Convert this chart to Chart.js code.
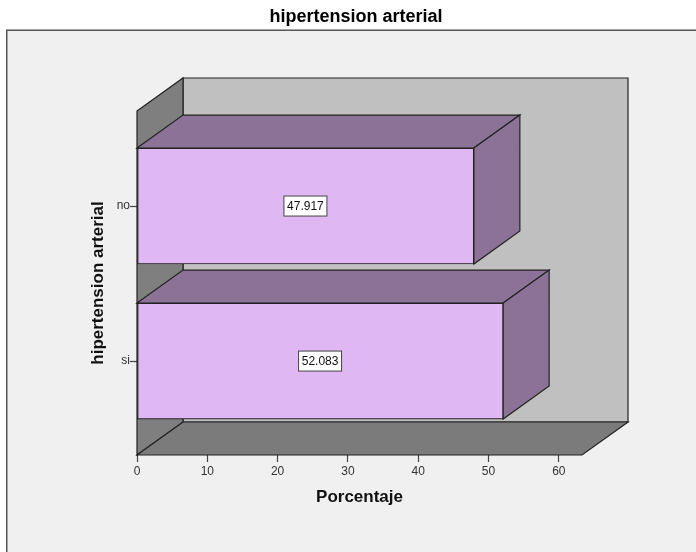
<!DOCTYPE html>
<html>
<head>
<meta charset="utf-8">
<title>hipertension arterial</title>
<script src="https://cdn.jsdelivr.net/npm/chart.js@4"></script>
<style>
html, body { margin: 0; padding: 0; background: #fff; }
canvas { display: block; }
</style>
</head>
<body>
<canvas id="graph" width="696" height="552"></canvas>
<script>
var titleText = 'hipertension arterial';
var categories = ['no', 'si'];
var percentages = [47.917, 52.083];
var xTicks = [0, 10, 20, 30, 40, 50, 60];
var xTitle = 'Porcentaje';
var yTitle = 'hipertension arterial';

// depth of the fake 3d box, in pixels
var DX = 46, DY = -33;
var LINE = '#222';

function poly(ctx, pts, fill) {
	ctx.beginPath();
	ctx.moveTo(pts[0][0], pts[0][1]);
	for (var i = 1; i < pts.length; i++) ctx.lineTo(pts[i][0], pts[i][1]);
	ctx.closePath();
	ctx.fillStyle = fill;
	ctx.fill();
	ctx.lineWidth = 1.2;
	ctx.strokeStyle = LINE;
	ctx.lineJoin = 'miter';
	ctx.stroke();
}

// panel behind everything + the box walls
var panelPlugin = {
	id: 'panel',
	beforeDraw: function(chart) {
		var ctx = chart.ctx;
		ctx.save();
		ctx.fillStyle = '#f0f0f0';
		ctx.fillRect(7, 30, 689, 522);
		ctx.fillStyle = '#555';
		ctx.fillRect(6, 30, 1.5, 522);
		ctx.fillRect(6, 29.5, 690, 1.5);
		ctx.restore();
	},
	beforeDatasetsDraw: function(chart) {
		var ctx = chart.ctx, a = chart.chartArea;
		var l = a.left, r = a.right, t = a.top, b = a.bottom;
		ctx.save();
		poly(ctx, [[l + DX, t + DY], [r + DX, t + DY], [r + DX, b + DY], [l + DX, b + DY]], '#c0c0c0');
		poly(ctx, [[l, t], [l + DX, t + DY], [l + DX, b + DY], [l, b]], '#7f7f7f');
		poly(ctx, [[l, b], [l + DX, b + DY], [r + DX, b + DY], [r, b]], '#7b7b7b');

		// top and side face of each bar
		chart.getDatasetMeta(0).data.forEach(function(bar) {
			var x0 = l, x1 = bar.x, y0 = bar.y - bar.height / 2, y1 = bar.y + bar.height / 2;
			poly(ctx, [[x0, y0], [x0 + DX, y0 + DY], [x1 + DX, y0 + DY], [x1, y0]], '#8b7296');
			poly(ctx, [[x1, y0], [x1 + DX, y0 + DY], [x1 + DX, y1 + DY], [x1, y1]], '#8b7296');
		});
		ctx.restore();
	},
	afterDatasetsDraw: function(chart) {
		var ctx = chart.ctx, l = chart.chartArea.left;
		ctx.save();
		ctx.font = '12px "Liberation Sans"';
		ctx.textAlign = 'center';
		ctx.textBaseline = 'middle';
		chart.getDatasetMeta(0).data.forEach(function(bar, i) {
			var cx = (l + bar.x) / 2, cy = bar.y;
			var txt = percentages[i].toFixed(3);
			ctx.fillStyle = '#fff';
			ctx.fillRect(cx - 21.5, cy - 10, 43, 20);
			ctx.strokeStyle = '#444';
			ctx.lineWidth = 1;
			ctx.strokeRect(cx - 21.5, cy - 10, 43, 20);
			ctx.fillStyle = '#111';
			ctx.fillText(txt, cx, cy + 0.5);
		});
		ctx.restore();
	}
};

var barData = percentages.map(function(v, i) { return { x: v, y: i }; });

new Chart(document.getElementById('graph'), {
	type: 'bar',
	plugins: [panelPlugin],
	data: {
		datasets: [{
			data: barData,
			yAxisID: 'y',
			barThickness: 116,
			backgroundColor: '#dfb8f3',
			borderColor: LINE,
			borderWidth: 1.2,
			borderSkipped: false
		}]
	},
	options: {
		indexAxis: 'y',
		responsive: false,
		animation: false,
		layout: { padding: { left: 16 } },
		plugins: {
			legend: { display: false },
			tooltip: { enabled: false },
			title: {
				display: true,
				text: titleText,
				color: '#000',
				font: { family: '"Liberation Sans"', size: 18, weight: 'bold' },
				padding: { top: 6, bottom: 83.4 }
			}
		},
		scales: {
			x: {
				type: 'linear',
				min: 0,
				max: 63.3,
				afterBuildTicks: function(scale) {
					scale.ticks = xTicks.map(function(v) { return { value: v }; });
				},
				afterFit: function(scale) { scale.height = 97; },
				border: { display: false },
				grid: { drawOnChartArea: false, tickLength: 7, color: '#444', tickWidth: 1.2 },
				ticks: {
					color: '#333',
					padding: 2,
					maxRotation: 0,
					font: { family: '"Liberation Sans"', size: 12 }
				},
				title: {
					display: true,
					text: xTitle,
					color: '#111',
					font: { family: '"Liberation Sans"', size: 17, weight: 'bold' },
					padding: { bottom: 44 }
				}
			},
			y: {
				type: 'linear',
				reverse: true,
				offset: false,
				min: -0.613,
				max: 1.606,
				afterBuildTicks: function(scale) {
					scale.ticks = categories.map(function(c, i) { return { value: i }; });
				},
				afterFit: function(scale) { scale.width = 121; },
				border: { display: false },
				grid: { offset: false, drawOnChartArea: false, tickLength: 7, color: '#444', tickWidth: 1.2 },
				ticks: {
					color: '#333',
					padding: 0,
					font: { family: '"Liberation Sans"', size: 12 },
					callback: function(v) { return categories[v]; }
				},
				title: {
					display: true,
					text: yTitle,
					color: '#111',
					font: { family: '"Liberation Sans"', size: 17, weight: 'bold' },
					padding: { top: 72 }
				}
			},
			// empty axis, only keeps the plot clear of the right hand depth
			spacer: {
				type: 'linear',
				axis: 'y',
				position: 'right',
				afterFit: function(scale) { scale.width = 114; },
				border: { display: false },
				grid: { display: false },
				ticks: { display: false }
			}
		}
	}
});
</script>
</body>
</html>
